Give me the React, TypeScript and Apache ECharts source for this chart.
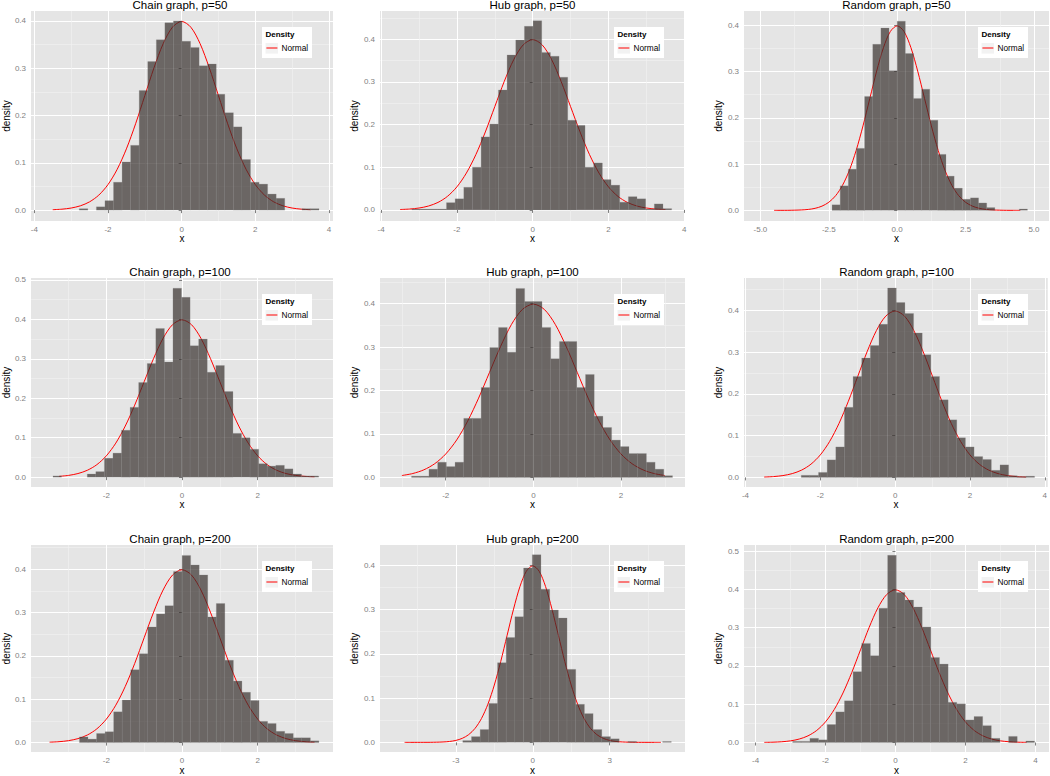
import React, { useEffect, useRef } from "react";
import * as echarts from "echarts";

// ---------- data ----------
const TITLES = [
  "Chain graph, p=50", "Hub graph, p=50", "Random graph, p=50",
  "Chain graph, p=100", "Hub graph, p=100", "Random graph, p=100",
  "Chain graph, p=200", "Hub graph, p=200", "Random graph, p=200",
];

// histogram bins: first bin left edge, bin width, densities
const BIN_START = [-2.78, -3.19, -2.381, -3.41, -2.78, -2.51, -2.71, -2.73, -2.94];
const BIN_WIDTH = [0.2325, 0.2286, 0.2976, 0.2265, 0.1985, 0.231, 0.226, 0.339, 0.247];

const CHAIN_50 = [0.003, 0, 0.007, 0.02, 0.059, 0.102, 0.137, 0.253, 0.314, 0.36, 0.396, 0.4, 0.357, 0.344, 0.305, 0.309, 0.245, 0.206, 0.176, 0.107, 0.059, 0.055, 0.034, 0.025, 0, 0, 0.003, 0.003];
const HUB_50 = [0.002, 0.002, 0.002, 0.002, 0.017, 0.026, 0.053, 0.1, 0.171, 0.201, 0.281, 0.363, 0.398, 0.43, 0.443, 0.369, 0.36, 0.311, 0.21, 0.198, 0.1, 0.11, 0.071, 0.058, 0.018, 0.031, 0.026, 0.002, 0.014, 0.003];
const RANDOM_50 = [0.012, 0.053, 0.089, 0.134, 0.246, 0.359, 0.394, 0.302, 0.409, 0.339, 0.242, 0.262, 0.195, 0.121, 0.074, 0.048, 0.024, 0.027, 0.016, 0.006, 0, 0, 0, 0.003];
const CHAIN_100 = [0.003, 0, 0, 0, 0.008, 0.014, 0.048, 0.061, 0.119, 0.177, 0.24, 0.288, 0.377, 0.292, 0.479, 0.456, 0.333, 0.35, 0.266, 0.283, 0.217, 0.111, 0.1, 0.071, 0.034, 0.028, 0.03, 0.021, 0.008, 0.003, 0.003];
const HUB_100 = [0.003, 0.003, 0.019, 0.035, 0.025, 0.035, 0.136, 0.136, 0.207, 0.299, 0.345, 0.288, 0.435, 0.405, 0.405, 0.345, 0.273, 0.313, 0.313, 0.207, 0.237, 0.141, 0.115, 0.086, 0.071, 0.055, 0.055, 0.035, 0.019, 0.004];
const RANDOM_100 = [0.005, 0.005, 0.012, 0.042, 0.073, 0.168, 0.242, 0.286, 0.316, 0.367, 0.454, 0.419, 0.393, 0.346, 0.294, 0.242, 0.186, 0.138, 0.095, 0.073, 0.05, 0.043, 0.017, 0.03, 0.004, 0.002, 0.003];
const CHAIN_200 = [0.013, 0.008, 0.021, 0.025, 0.071, 0.098, 0.168, 0.205, 0.267, 0.297, 0.316, 0.395, 0.432, 0.41, 0.387, 0.29, 0.321, 0.19, 0.142, 0.116, 0.097, 0.049, 0.044, 0.026, 0.021, 0.011, 0.011, 0.004];
const HUB_200 = [0.004, 0.013, 0.029, 0.088, 0.18, 0.237, 0.284, 0.394, 0.424, 0.346, 0.299, 0.281, 0.165, 0.086, 0.065, 0.029, 0.013, 0.008, 0, 0.002, 0, 0, 0, 0.002];
const RANDOM_200 = [0.003, 0.003, 0.011, 0.007, 0.047, 0.08, 0.109, 0.185, 0.259, 0.227, 0.351, 0.489, 0.392, 0.372, 0.354, 0.302, 0.222, 0.205, 0.105, 0.101, 0.059, 0.068, 0.044, 0.011, 0, 0.016, 0, 0.004];

const HEIGHTS = [CHAIN_50, HUB_50, RANDOM_50, CHAIN_100, HUB_100, RANDOM_100, CHAIN_200, HUB_200, RANDOM_200];

// normal density curve, read at |x| = 0, 0.25, ..., 5
const NORMAL_X = [0, 0.25, 0.5, 0.75, 1, 1.25, 1.5, 1.75, 2, 2.25, 2.5, 2.75, 3, 3.25, 3.5, 3.75, 4, 4.25, 4.5, 4.75, 5];
const NORMAL_Y = [0.3989, 0.3867, 0.3521, 0.3011, 0.242, 0.1826, 0.1295, 0.0863, 0.054, 0.0317, 0.0175, 0.0091, 0.0044, 0.002, 0.0009, 0.0004, 0.0001, 0.00005, 0.00002, 0.00001, 0];
const CURVE_RANGE = [[-3.5, 3.5], [-3.5, 3.5], [-4.5, 4.5], [-3.25, 3.5], [-3, 3], [-3.5, 3.5], [-3.5, 3.5], [-5, 5], [-3.75, 3.75]];

// axes
const X_RANGE = [[-4.09, 4.11], [-4.03, 4.02], [-5.6, 5.55], [-3.99, 3.99], [-3.5, 3.46], [-4.04, 4.08], [-3.99, 3.99], [-5.96, 5.94], [-4.33, 4.39]];
const Y_RANGE = [[-0.023, 0.421], [-0.026, 0.466], [-0.023, 0.431], [-0.025, 0.505], [-0.022, 0.459], [-0.023, 0.478], [-0.022, 0.456], [-0.022, 0.446], [-0.025, 0.516]];
const X_TICKS = [[-4, -2, 0, 2, 4], [-4, -2, 0, 2, 4], [-5, -2.5, 0, 2.5, 5], [-2, 0, 2], [-2, 0, 2], [-4, -2, 0, 2, 4], [-2, 0, 2], [-3, 0, 3], [-4, -2, 0, 2, 4]];
const Y_TICKS_4 = [0, 0.1, 0.2, 0.3, 0.4];
const Y_TICKS_5 = [0, 0.1, 0.2, 0.3, 0.4, 0.5];
const Y_TICKS = [Y_TICKS_4, Y_TICKS_4, Y_TICKS_4, Y_TICKS_5, Y_TICKS_4, Y_TICKS_4, Y_TICKS_4, Y_TICKS_4, Y_TICKS_5];
const P3_MAJOR = [-5, -2.5, 0, 2.5, 5];
const P3_MINOR = [-3.75, -1.25, 1.25, 3.75];

// ---------- layout ----------
const COL_LEFT = [27, 380, 744];
const COL_WIDTH = [306, 305, 305];
const ROW_TOP = [11, 278, 545];
const ROW_HEIGHT = [210, 209, 209];
const FONT = "'Liberation Sans', Arial, Helvetica, sans-serif";
const BAR_FILL = "rgba(56,48,46,0.7)";
const GRID_BG = "#E5E5E5";
const TICK_GREY = "#7F7F7F";
const TOP_Z = 50;

function curvePoints(i: number) {
  const pts: number[][] = [];
  for (let k = NORMAL_X.length - 1; k >= 1; k--) pts.push([-NORMAL_X[k], NORMAL_Y[k]]);
  for (let k = 0; k < NORMAL_X.length; k++) pts.push([NORMAL_X[k], NORMAL_Y[k]]);
  const [lo, hi] = CURVE_RANGE[i];
  return pts.filter((p) => p[0] >= lo - 1e-9 && p[0] <= hi + 1e-9);
}

function binData(i: number) {
  const out: number[][] = [];
  HEIGHTS[i].forEach((h, k) => {
    if (h > 0) {
      const x0 = BIN_START[i] + k * BIN_WIDTH[i];
      out.push([x0, x0 + BIN_WIDTH[i], h]);
    }
  });
  return out;
}

function buildOption() {
  const grid: any[] = [];
  const xAxis: any[] = [];
  const yAxis: any[] = [];
  const series: any[] = [];
  const graphic: any[] = [];

  for (let i = 0; i < 9; i++) {
    const r = Math.floor(i / 3);
    const c = i % 3;
    const left = COL_LEFT[c];
    const top = ROW_TOP[r];
    const width = COL_WIDTH[c];
    const height = ROW_HEIGHT[r];
    const isP3 = i === 2;

    grid.push({
      left, top, width, height,
      show: true, backgroundColor: GRID_BG, borderWidth: 0, containLabel: false,
    });

    xAxis.push({
      type: "value", gridIndex: i,
      min: X_RANGE[i][0], max: X_RANGE[i][1],
      splitNumber: 4,
      axisLine: { show: false },
      axisTick: { show: true, length: 3, lineStyle: { color: TICK_GREY }, customValues: X_TICKS[i] },
      axisLabel: {
        color: TICK_GREY, fontSize: 8, margin: 4, fontFamily: FONT,
        customValues: X_TICKS[i],
        formatter: (v: number) => (isP3 ? v.toFixed(1) : String(v)),
      },
      splitLine: { show: !isP3, lineStyle: { color: "#FFFFFF", width: 1 } },
      minorTick: { show: false, splitNumber: 2 },
      minorSplitLine: { show: !isP3, lineStyle: { color: "#F2F2F2", width: 0.6 } },
      name: "x", nameLocation: "middle", nameGap: 12,
      nameTextStyle: { fontSize: 10, color: "#000", fontFamily: FONT },
    });

    yAxis.push({
      type: "value", gridIndex: i,
      min: Y_RANGE[i][0], max: Y_RANGE[i][1],
      splitNumber: 5,
      axisLine: { show: false },
      axisTick: { show: true, length: 3, lineStyle: { color: TICK_GREY }, customValues: Y_TICKS[i] },
      axisLabel: {
        color: TICK_GREY, fontSize: 8, margin: 5, fontFamily: FONT,
        customValues: Y_TICKS[i],
        formatter: (v: number) => v.toFixed(1),
      },
      splitLine: { show: true, lineStyle: { color: "#FFFFFF", width: 1 } },
      minorTick: { show: false, splitNumber: 2 },
      minorSplitLine: { show: true, lineStyle: { color: "#F2F2F2", width: 0.6 } },
      name: "density", nameLocation: "middle", nameRotate: 90, nameGap: 16,
      nameTextStyle: { fontSize: 10, color: "#000", fontFamily: FONT },
    });

    const lineSeries: any = {
      type: "line", xAxisIndex: i, yAxisIndex: i, z: 2,
      data: curvePoints(i), showSymbol: false, smooth: 0.3, silent: true,
      lineStyle: { color: "#FF0000", width: 1 },
    };
    if (isP3) {
      lineSeries.markLine = {
        silent: true, symbol: "none", z: 1, animation: false,
        label: { show: false },
        data: [
          ...P3_MINOR.map((v) => ({ xAxis: v, lineStyle: { color: "#F2F2F2", width: 0.6, type: "solid" } })),
          ...P3_MAJOR.map((v) => ({ xAxis: v, lineStyle: { color: "#FFFFFF", width: 1, type: "solid" } })),
        ],
      };
    }
    series.push(lineSeries);

    series.push({
      type: "custom", xAxisIndex: i, yAxisIndex: i, z: 3, silent: true,
      data: binData(i),
      encode: { x: [0, 1], y: 2 },
      renderItem: (params: any, api: any) => {
        const a = api.coord([api.value(0), api.value(2)]);
        const b = api.coord([api.value(1), 0]);
        return {
          type: "rect",
          shape: { x: a[0], y: a[1], width: b[0] - a[0], height: b[1] - a[1] },
          style: { fill: BAR_FILL, stroke: "rgba(140,140,140,0.45)", lineWidth: 0.5 },
        };
      },
    });

    // title
    graphic.push({
      type: "text", x: left + width / 2, y: top - 6, silent: true, z: TOP_Z,
      style: {
        text: TITLES[i], fontSize: 11.5, fontFamily: FONT, fill: "#000",
        align: "center", verticalAlign: "middle",
      },
    });

    // legend box
    graphic.push({
      type: "group", x: left + width - 71, y: top + 16, silent: true, z: TOP_Z,
      children: [
        { type: "rect", z: TOP_Z, shape: { x: 0, y: 0, width: 50, height: 31 }, style: { fill: "#FFFFFF" } },
        {
          type: "text", z: TOP_Z + 1, x: 3.5, y: 7.3,
          style: { text: "Density", fontSize: 8, fontWeight: "bold", fontFamily: FONT, fill: "#000", verticalAlign: "middle" },
        },
        { type: "rect", z: TOP_Z + 1, shape: { x: 3.5, y: 16, width: 12.5, height: 10.6 }, style: { fill: "#F2F2F2" } },
        { type: "line", z: TOP_Z + 2, shape: { x1: 4.4, y1: 21, x2: 15.4, y2: 21 }, style: { stroke: "#FF0000", lineWidth: 1 } },
        {
          type: "text", z: TOP_Z + 1, x: 19.4, y: 21,
          style: { text: "Normal", fontSize: 8.3, fontFamily: FONT, fill: "#000", verticalAlign: "middle" },
        },
      ],
    });
  }

  return {
    animation: false,
    backgroundColor: "#FFFFFF",
    textStyle: { fontFamily: FONT },
    grid, xAxis, yAxis, series, graphic,
  };
}

export default function App() {
  const ref = useRef<HTMLDivElement>(null);
  useEffect(() => {
    if (!ref.current) return;
    const chart = echarts.init(ref.current, undefined, { renderer: "svg" });
    chart.setOption(buildOption() as any);
    return () => chart.dispose();
  }, []);
  return (
    <div
      ref={ref}
      style={{ position: "absolute", left: 0, top: 0, width: 1050, height: 776 }}
    />
  );
}
